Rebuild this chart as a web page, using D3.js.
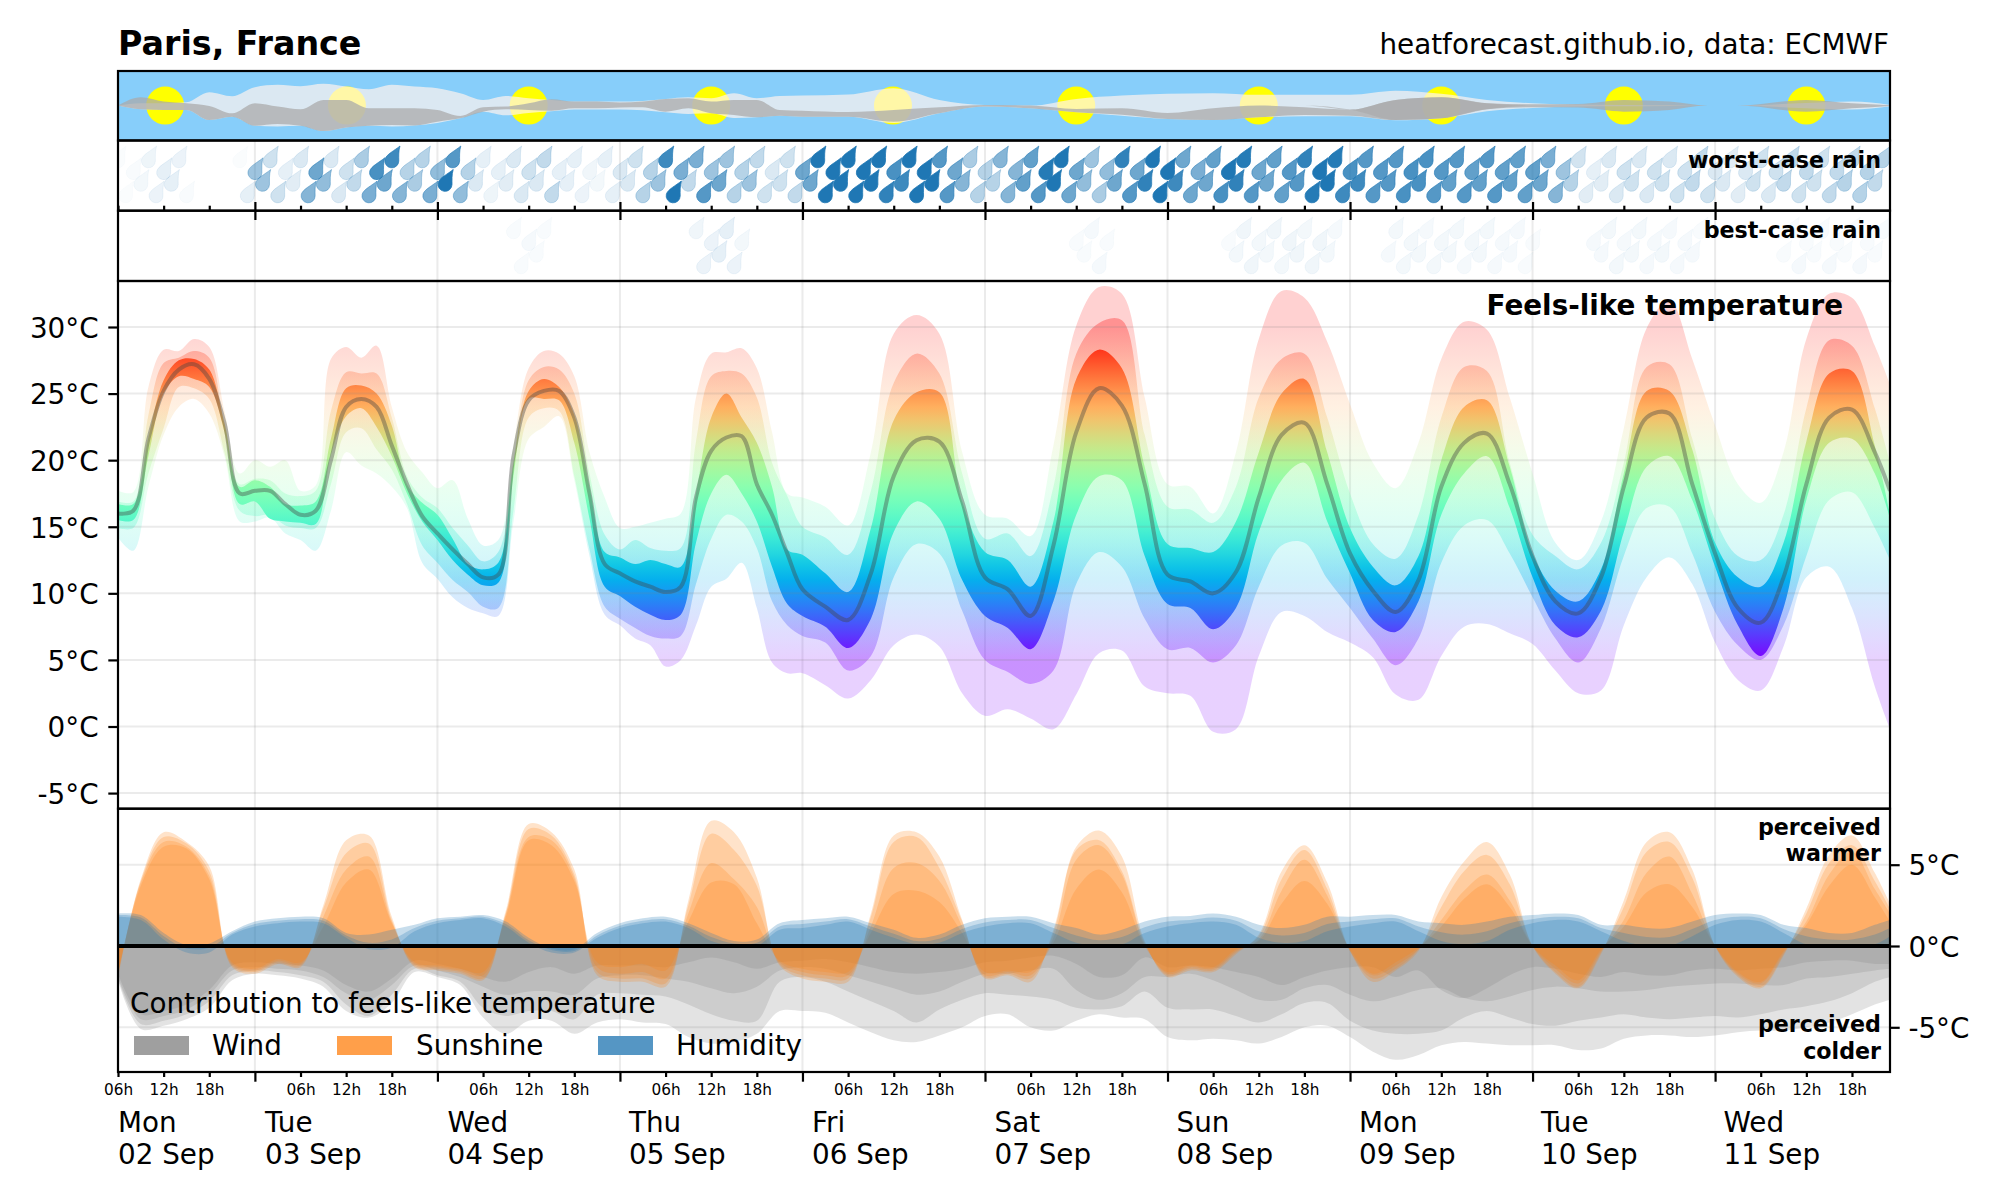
<!DOCTYPE html>
<html><head><meta charset="utf-8">
<script src="https://cdn.jsdelivr.net/npm/d3@7"></script>
<style>html,body{margin:0;background:#fff}svg{display:block}text{font-family:"DejaVu Sans",sans-serif;fill:#000}</style>
</head><body><svg id="c" width="2000" height="1200"></svg>
<script>
// ---------- data ----------
const titleText="Paris, France", sourceText="heatforecast.github.io, data: ECMWF";
const dayNames=["Mon","Tue","Wed","Thu","Fri","Sat","Sun","Mon","Tue","Wed"];
const dayDates=["02 Sep","03 Sep","04 Sep","05 Sep","06 Sep","07 Sep","08 Sep","09 Sep","10 Sep","11 Sep"];
const dayHours=[24,48,72,96,120,144,168,192,216];
const hourTicks=[6,12,18,30,36,42,54,60,66,78,84,90,102,108,114,126,132,138,150,156,162,174,180,186,198,204,210,222,228,234];
const tempTicks=[-5,0,5,10,15,20,25,30], contribTicks=[-5,0,5];
const sunHours=[12.2,36.1,60,84,107.9,132,156,180,204,228];

// temperature quantiles: 2-hourly h=6..94, then 3-hourly h=96..237, then h=239
const tempHours=[6,8,10,12,14,16,18,20,22,24,26,28,30,32,34,36,38,40,42,44,46,48,50,52,54,56,58,60,62,64,66,68,70,72,74,76,78,80,82,84,86,88,90,92,94,
 96,99,102,105,108,111,114,117,120,123,126,129,132,135,138,141,144,147,150,153,156,159,162,165,168,171,174,177,180,183,186,189,192,195,198,201,204,207,210,213,216,219,222,225,228,231,234,237,239];
const tMax=[17.7,17.6,25.5,28.3,28.2,29.1,28.5,23.7,19,20,19.5,20,17.7,18.1,27.6,28.5,27.7,28.6,24,20.6,19.1,17.9,18.5,15.6,13.6,14,21.1,26.9,28.2,28,26.3,20.6,17.2,14.9,15,15.3,15.6,16,24.7,28,28.1,28.4,26.9,22.1,17.5,
 17.2,16.5,15.1,20.6,29.5,30.9,29.5,20.6,15.9,15.6,14.3,21.1,30.1,33,32.5,24.7,18.2,18,16,20.6,29.1,32.7,32.2,
 28.9,24.2,19.8,17.9,21.3,27.6,30.4,29.8,24.7,19,13.8,12.5,15.4,22.4,29.9,32,27.6,22.6,18.2,16.8,20.6,29.1,32.5,32.2,28.6,25.7];
const tQ4=[16.9,16.9,23.4,27.3,27.7,28.2,27.7,22.6,18.2,18.6,18.5,17.5,17.3,17.7,23.7,26.6,26.5,26.5,23.2,18.8,17.2,16.4,14.9,13.6,12.4,13.1,20,26,27,26.8,25,19,14.4,13.3,14,13.4,13.2,13.4,21.4,26.3,26.7,26.5,24.7,19.8,17.3,
 15,14.2,12.9,17.7,25.8,28,26.5,19,14.1,14.5,12.8,18,28,30.3,30.5,21.9,16.5,16.3,15.3,18,24.7,27.6,28,
 23.2,17.5,13.7,12.6,15.9,23.2,27,26.7,19.8,14.4,12.8,11.8,13.8,19.8,27,27.2,21.6,15.6,12.8,12.5,15.9,23.9,29,28.6,23.9,19.8];
const tQ3=[16.7,16.7,21.7,26,27.5,27.6,26.8,22.8,18,18.5,18,16.7,16.6,16.9,21.6,25.4,25.6,25,22.6,18.2,16.8,15.9,14.1,12.2,11.8,12.3,19.8,25.2,26.1,25.5,23.4,18,13.1,12.7,12.2,12.5,12.2,12,17.5,23.2,25,23.2,21.3,18,13.3,
 12.9,11.5,10.1,14.9,23,25.1,25.1,16.9,13.1,12.5,10.5,15.4,26.1,28.3,26.9,19.5,13.7,13.4,13.1,15.4,20.6,25,26.1,
 20.6,14.9,12,10.6,12.8,20,24,24.5,19.5,13,10.2,9.4,11.8,19,25.2,25.2,20.8,13.8,11.2,10.5,13.8,21.4,26.5,26.7,21.1,15.9];
const tMed=[16,16.2,21.6,25.2,26.8,27.2,26.1,22.8,17.5,17.7,17.7,16.7,15.9,16.2,20,24,24.6,24,21.1,18.2,15.8,14.5,13.3,12.2,11.2,11.4,20.3,24.5,25.2,25.2,23.2,17.5,12.2,11.5,10.9,10.5,10.1,10.5,17.2,20.7,21.7,21.8,18.2,15.9,13,
 10.3,9,8,11.5,18.8,21.5,21.4,16.9,11.2,10.3,8.3,13.6,22.1,25.4,24.1,18.2,11.4,10.9,10,11.6,17.2,21.9,22.8,
 18.2,13,10.2,8.6,11,18,21.3,22,18.2,12.8,9.4,8.5,11.2,18,23.2,23.5,18.2,13,8.9,7.8,11.2,18.2,23.2,23.8,20.6,17.7];
const tQ2=[15.5,15.5,20.3,25,26.3,26.1,25.5,22.1,16.7,16.9,15.6,15.4,15.3,15.2,20.4,23.3,23.9,22.5,20.3,17.5,15.4,14,12.5,11.4,10.6,10.8,18.8,24.6,24.6,24.5,21.3,15.6,10.5,9.8,9,8.4,8,8.4,13.8,17.5,18.9,17.5,15.4,12,9.2,
 8.3,7.5,5.9,8.1,14.6,16.9,15.6,11,8.3,7.4,5.8,9.4,15.9,18.8,18.5,12.8,9.2,8.9,7.3,8.9,14.6,18.5,19.8,
 15.4,11.5,8,7.1,9.4,15.9,19,20.3,16.4,11.2,7.6,6.7,8.7,14.6,19.5,20.3,17,12,7.6,5.3,8.9,17,21.3,21.6,19,15.6];
const tQ1=[14.9,14.9,19,22.4,25.5,25.4,24.6,20.6,16.2,15.8,15.9,15.1,14.9,14.9,18.2,22.1,22.4,20.8,19.3,16.7,13.6,12.3,11,10.1,9,8.9,16.2,23.2,23.9,23.7,18.8,13.3,9,8.1,7.4,6.8,6.6,6.8,10.7,14.1,15.9,15.4,13.4,9.4,7.6,
 6.8,6.3,4.2,5.3,11.2,13.7,13,8.7,5,4.1,3.2,4.2,10.7,13.1,12,8.1,5.8,5.9,4.8,6.1,10.5,13.6,13.8,
 11.1,8.9,6.6,4.6,6.6,12.3,15.1,15.5,13,9.7,6.6,4.8,7.4,12.8,16.4,16.5,13,8.6,6.1,5,7.6,12.8,17,17.6,14.9,12.5];
const tMin=[14.2,13.2,18,21.9,24,24.6,23.5,20.3,15.4,15.4,15.7,14.5,14,13.2,16.2,20.6,19.6,19,18,16.4,12.3,11.1,9.7,8.9,8.5,8.3,15.4,21.6,22.5,23.3,18.5,12.8,8.4,7.6,6.6,6.1,4.5,5,7.6,10.5,11.1,12.3,8.9,4.8,4,
 4,3.1,2.1,3.5,6.1,6.9,6,2.5,.8,1.3,.6,-.2,2.4,5.5,5.7,3,2.5,2.3,-.4,-.2,5.3,8.6,8.3,
 7.1,6.3,5.2,2.4,2,5.3,7.5,7.7,7,6.2,4.2,2.5,2.7,7.6,11.2,12.7,10.7,6.3,3.5,2.7,6,11.2,12,8.9,3,-.2];

// contributions: 3-hourly h=6..237, then h=239 (rows are days)
const contribHours=[6,9,12,15,18,21,24,27,30,33,36,39,42,45,48,51,54,57,60,63,66,69,72,75,78,81,84,87,90,93,96,99,102,105,108,111,114,117,120,123,126,129,132,135,138,141,144,147,150,153,156,159,162,165,168,171,174,177,180,183,186,189,192,195,198,201,204,207,210,213,216,219,222,225,228,231,234,237,239];
const sun1=[-2,4.1,7,6.4,4.9,-1.3,
 -1.7,-1.1,-1.3,2.5,6.5,6.8,1.8,-1.3, -1.5,-1.7,-2.1,2.2,7.5,7,4.7,-1.8, -2.2,-2.2,-2.5,2.8,7.7,7,4.2,-1.2, -2,-2.2,-2.2,2,6.8,7,5.5,1.6,
 -2,-1.8,-2.2,1,6.1,7.1,5.5,.3, -1.9,-1.5,-1.6,-.5,.7,4.6,6.2,3.9, -.3,-2.2,-1.5,-.3,3,5.2,6.4,4.4, 0,-1.7,-2.6,-.5,2.8,6.4,7,4.7, 0,-1.9,-2.6,-.6,2.3,5.6,6.8,4.5, 2.6];
const sun2=[-1.9,4,6.7,6.3,4.6,-1.2,
 -1.6,-1,-1.2,2.3,5.7,6.3,1.6,-1.2, -1.4,-1.6,-2,2,7.2,6.8,4.4,-1.6, -2,-2,-2.3,2.5,6.9,5.9,3.7,-1.1, -1.8,-2,-2,1.8,6.4,6.7,4.8,1.5,
 -1.9,-1.7,-2,.8,5.9,6.5,4.6,.2, -1.8,-1.4,-1.5,-.4,.6,4.1,5.9,3.5, -.3,-2,-1.4,-.2,2.4,4.6,5.6,3.8, 0,-1.6,-2.5,-.4,2.4,5.8,6.4,4.2, 0,-1.8,-2.5,-.5,2,5.1,6.2,4, 2.3];
const sun3=[-1.8,3.9,6.4,6.1,4.3,-1.1,
 -1.5,-.9,-1.1,1.8,4.7,5.5,1.5,-1.1, -1.3,-1.5,-1.8,2,6.7,6.5,4.2,-1.3, -1.7,-1.6,-2,2,5.1,4.1,2.4,-1, -1.6,-1.8,-1.8,1.2,4.8,5.1,4,1.2,
 -1.8,-1.6,-1.8,.5,5.3,6.2,4.4,.1, -1.7,-1.3,-1.4,-.3,.4,3.4,5.3,3.1, -.3,-1.8,-1.2,-.2,1.6,3.4,4.4,2.8, 0,-1.4,-2.3,-.3,1.6,4.5,5.5,3.2, 0,-1.7,-2.3,-.4,1.5,4.4,5.8,3.5, 2];
const sun4=[-1.7,3.7,6.1,6,4.1,-1,
 -1.4,-.8,-1,1.2,3.9,4.7,1.4,-1, -1.2,-1.4,-1.6,1.8,6.5,6.2,4,-1, -1.3,-1.1,-1.5,1.5,3.9,3.8,1.4,-.9, -1.4,-1.6,-1.6,.8,3.2,3.4,2.7,.8,
 -1.6,-1.5,-1.6,.2,3.5,4.7,3.3,0, -1.6,-1.2,-1.3,-.2,.3,2.6,4,2.6, -.2,-1.7,-1,-.1,1.2,2.9,3.8,2.4, 0,-1.2,-2.1,-.2,1.2,3.3,3.8,2.4, 0,-1.6,-2.2,-.3,1.3,3.7,5,3, 1.5];
const hum1=[2,1.9,.8,.06,.15,.9,
 1.5,1.7,1.8,1.7,.8,.7,1,1.3, 1.7,1.8,1.9,1.5,.5,-.15,-.2,.8, 1.4,1.7,1.8,1.4,.8,.3,.4,1.4, 1.6,1.7,1.8,1.4,1,.5,.7,1.3,
 1.7,1.8,1.8,1.4,1.1,.7,1,1.5, 1.8,1.85,2,1.8,1.3,1.1,1.3,1.8, 1.8,1.9,1.9,1.5,1.4,1.3,1.5,1.8, 1.9,2,1.9,1.3,1.3,1.1,1.1,1.5, 1.9,2,1.9,1.3,1.1,.8,.8,1.3, 1.6];
const hum2=[1.9,1.75,.6,-.15,-.1,.8,
 1.35,1.55,1.65,1.55,.65,.2,.4,1.1, 1.55,1.7,1.8,1.35,.35,-.25,-.3,.65, 1.25,1.55,1.65,1.25,.55,.15,.2,1.2, 1.35,1.5,1.65,1.2,.75,.3,.45,1.05,
 1.45,1.6,1.6,1.1,.65,.35,.55,1.15, 1.5,1.6,1.75,1.55,.9,.65,.8,1.35, 1.5,1.65,1.7,1.2,.85,.7,.9,1.4, 1.65,1.8,1.7,1.1,.8,.55,.55,1.05, 1.6,1.8,1.7,1.05,.6,.4,.4,.7, 1.1];
const hum3=[1.8,1.6,.4,-.4,-.4,.7,
 1.2,1.4,1.5,1.4,.5,-.2,-.1,.9, 1.4,1.6,1.7,1.2,.2,-.4,-.4,.5, 1.1,1.4,1.5,1.1,.3,0,0,1, 1.1,1.3,1.5,1,.5,.1,.2,.8,
 1.2,1.4,1.4,.8,.2,0,.1,.8, 1.2,1.4,1.5,1.3,.5,.2,.3,.9, 1.2,1.4,1.5,.9,.3,.1,.3,1, 1.4,1.6,1.5,.9,.3,0,0,.6, 1.3,1.6,1.5,.8,.1,0,0,.1, .6];
const wind1=[-1.7,-4.2,-4,-3.6,-2.7,-1.2,
 -1,-1.1,-1.2,-1.5,-2.4,-2.8,-2,-.9, -1.1,-1.4,-1.9,-2.2,-1.6,-1.3,-1.7,-1.2, -1.2,-1.2,-1.3,-1,-.7,-1,-1.4,-1, -.9,-.8,-1,-1.3,-1.6,-1.7,-1.6,-1.4,
 -1,-.9,-.7,-.6,-1.1,-1.9,-1.8,-.7, -1.3,-1.2,-1.3,-1.6,-1.9,-2.4,-1.9,-1.5, -1.3,-1.3,-1.9,-1.5,-2.7,-3.2,-2.6,-1.8, -1.3,-1.4,-1.7,-1.9,-1.6,-1.8,-1.8,-1.5, -1.4,-1.5,-1.4,-1.3,-1,-.9,-.9,-1.1, -1.1];
const wind2=[-1.9,-4.5,-4.3,-3.9,-3,-1.5,
 -1.3,-1.4,-1.5,-1.9,-2.9,-3.3,-2.4,-1.2, -1.5,-1.9,-2.5,-3,-2.8,-2.8,-3,-2, -1.8,-1.8,-2,-2.2,-2.6,-2.9,-2.5,-1.5, -1.3,-1.4,-1.8,-2.2,-2.6,-3,-2.8,-2.2,
 -1.7,-1.7,-1.5,-1.4,-2.7,-3.3,-2.9,-1.9, -1.9,-1.7,-2.1,-2.7,-3.3,-3.3,-2.6,-2.4, -3,-3.4,-3.1,-2.7,-2.6,-3.2,-3.4,-3.1, -2.7,-2.5,-2.6,-2.8,-2.8,-2.7,-2.5,-2.4, -2.3,-2.3,-2.4,-2.4,-2,-1.9,-1.7,-1.5, -1.4];
const wind3=[-2,-4.8,-4.6,-4.2,-3.4,-1.8,
 -1.5,-1.6,-1.8,-2.2,-3.6,-4.3,-3,-1.4, -1.8,-2.2,-3.8,-4.3,-4,-4,-4.5,-3, -2.9,-3,-3.1,-3.6,-4.2,-4.6,-4.6,-2.2, -1.9,-2.2,-2.8,-3.4,-4,-4.7,-3.9,-3.3,
 -2.9,-3,-3.1,-3.3,-3.8,-3.9,-3.7,-2.8, -3.8,-3.9,-3.9,-4.3,-4.7,-4.2,-3.5,-3.5, -4.6,-5.2,-5.4,-5.4,-5.2,-4.4,-4,-4.4, -4.8,-4.9,-4.6,-4.4,-4.2,-4.4,-4.5,-4.4, -4.3,-4.4,-4.2,-3.9,-3.7,-3.4,-2.9,-2.2, -1.9];
const wind4=[-2.1,-5.1,-4.9,-4.5,-3.8,-2.1,
 -1.7,-1.8,-2,-2.5,-4,-4.4,-3.5,-1.6, -1.9,-2.4,-4.4,-5.4,-4.6,-4.6,-5.4,-4.7, -4.5,-4.7,-4.8,-5.6,-6,-5.9,-5.4,-4, -4,-4.1,-4.7,-5.3,-5.8,-5.9,-5.5,-5,
 -4.3,-4.2,-5,-5.2,-4.6,-4.2,-4.4,-4.5, -5.6,-5.8,-5.7,-5.8,-6,-5.6,-5,-4.9, -5.6,-6.5,-7,-6.7,-6.1,-5.9,-6,-6.1, -6.1,-6.1,-6.4,-6.3,-5.7,-5.5,-5.5,-5.6, -5.5,-5.3,-5.2,-5.2,-5,-4.7,-4.2,-3.6, -3.3];

// clouds
const cloudHours=[6,9,12,15,18,21,24,27,30,33,36,39,42,45,48,51,54,57,60,63,66,69,72,75,78,81,84,87,90,93,96,102,108,114,120,126,132,138,144,150,156,162,168,174,180,186,192,198,204,210,215,219,228,234,239];
const cloudHigh=[0,7,7,10,40,28,55,62,58,65,57,49,62,57,52,37,17,29,22,17,12,12,12,14,20,25,22,37,22,29,30,33,52,17,2,0,20,30,35,37,32,32,32,44,35,17,7,3,2,1,0,0,8,12,2];
const cloudHighBot=[0,-11,-13,-13,-43,-33,-60,-62,-60,-76,-65,-60,-62,-59,-52,-38,-18,-29,-22,-17,-12,-12,-12,-14,-20,-25,-23,-37,-35,-30,-33,-33,-52,-23,-3,-8,-20,-30,-40,-43,-35,-32,-32,-44,-38,-17,-7,-3,-2,-1,0,0,-8,-12,-2];
const cloudLowTop=[0,25,12,7,-1,-23,7,-3,-11,17,17,-8,-8,-8,-13,-31,-5,-3,7,19,12,12,9,12,20,22,12,17,17,-13,-15,-19,-13,-5,2,0,-10,-8,-22,-8,0,-5,-12,17,25,7,4,5,17,12,0,0,17,7,1];
const cloudLowBot=[0,-11,-13,-13,-43,-33,-60,-55,-60,-76,-65,-60,-58,-59,-48,-38,-18,-11,-13,-15,-8,-8,-6,-5,-18,-8,-23,-28,-35,-30,-33,-33,-48,-23,-3,-8,-20,-27,-40,-43,-35,-28,-30,-43,-38,-11,-5,-6,-18,-13,0,0,-18,-8,-1];
const cloudDarkTop=[0,0,0,0,0,0,0,0,0,0,0,0,0,0,0,0,0,0,0,0,0,0,0,0,0,0,0,0,0,0,0,0,0,0,0,0,0,0,0,0,0,0,-12,17,25,7,0,0,0,0,0,0,0,0,0];
const cloudDarkBot=[0,0,0,0,0,0,0,0,0,0,0,0,0,0,0,0,0,0,0,0,0,0,0,0,0,0,0,0,0,0,0,0,0,0,0,0,0,0,0,0,0,0,-12,-43,-38,-11,0,0,0,0,0,0,0,0,0];

// rain drop strength (percent), hourly from h=6 to h=238 (first row h=6..23, then days)
const rainWorst=[2,2,3,5,7,8,10,10,8,3,0,0,0,0,0,0,2,10,
 40,40,20,20,10,12,15,50,60,45,15,15,20,25,35,55,75,60,80,50,30,35,30,55,
 45,100,70,45,30,15,10,7,10,12,15,15,20,15,25,25,10,10,10,8,6,5,10,10,
 15,15,20,30,30,40,80,95,55,25,55,70,40,60,40,30,30,40,25,20,15,20,20,25,
 60,60,100,100,100,100,100,100,100,100,100,85,75,80,100,100,100,100,70,70,60,50,35,30,
 30,30,50,50,50,65,65,70,90,100,100,60,60,45,40,35,45,60,85,70,60,85,100,100,
 100,80,60,60,55,60,65,75,95,85,90,70,60,60,65,65,70,70,85,90,95,95,90,80,
 75,80,70,70,70,70,70,75,75,75,75,70,70,65,70,70,65,65,70,70,65,65,65,65,
 65,60,55,50,40,30,18,12,10,12,15,15,20,20,15,15,20,20,15,20,20,25,25,20,
 15,15,12,12,15,20,20,15,20,25,25,20,25,20,20,25,25,30,25,30,30,25,30];
const rainBest=[0,0,0,0,0,0,0,0,0,0,0,0,0,0,0,0,0,0,
 0,0,0,0,0,0,0,0,0,0,0,0,0,0,0,0,0,0,0,0,0,0,0,0,
 0,0,0,0,0,0,0,0,0,0,3,3,4,3,3,0,0,0,0,0,0,0,0,0,
 0,0,0,0,0,0,0,0,0,0,6,8,8,10,10,8,5,0,0,0,0,0,0,0,
 0,0,0,0,0,0,0,0,0,0,0,0,0,0,0,0,0,0,0,0,0,0,0,0,
 0,0,0,0,0,0,0,0,0,0,0,0,3,3,4,4,3,0,0,0,0,0,0,0,
 0,0,0,0,0,0,0,0,3,5,6,6,5,5,6,5,6,6,5,6,6,5,4,0,
 0,0,0,0,0,4,5,5,5,5,4,5,5,5,5,4,5,5,5,4,4,4,4,3,
 3,0,0,0,0,0,0,0,4,4,5,5,4,5,5,4,4,5,4,4,4,4,3,0,
 0,0,0,0,0,0,0,0,0,3,3,4,3,3,3,4,3,3,3,4,3,3,3];

const legendItems=["Wind","Sunshine","Humidity"];

// ---------- layout ----------
const L=118,R=1890;
const sky={t:71,b:140.5}, worst={t:140.5,b:210.7}, best={t:210.7,b:281}, main={t:281,b:808.7}, con={t:808.7,b:1072};
const svg=d3.select("#c"), defs=svg.append("defs");
const x=d3.scaleLinear().domain([6,239]).range([L,R]);
const yT=d3.scaleLinear().domain([0,30]).range([726.5,327]);
const yC=d3.scaleLinear().domain([0,5]).range([946,864.7]);
const yS=d3.scaleLinear().domain([-103.5,103.5]).range([140.3,70.9]);
const FS=27.8;
function clip(id,p){defs.append("clipPath").attr("id",id).append("rect").attr("x",L).attr("y",p.t).attr("width",R-L).attr("height",p.b-p.t);}
[["cSky",sky],["cWorst",worst],["cBest",best],["cMain",main],["cCon",con]].forEach(a=>clip(a[0],a[1]));

// rainbow gradient by temperature
const rainbow=t=>{const r=Math.abs(2*t-.5),g=Math.sin(Math.PI*t),b=Math.cos(Math.PI*t/2);
 return d3.rgb(Math.min(1,r)*255,g*255,b*255).formatHex();};
const grad=defs.append("linearGradient").attr("id","temp").attr("gradientUnits","userSpaceOnUse")
 .attr("x1",0).attr("x2",0).attr("y1",yT(5)).attr("y2",yT(30));
d3.range(0,1.0001,.04).forEach(t=>grad.append("stop").attr("offset",t).attr("stop-color",rainbow(t)));

const gridCol="rgba(128,128,128,0.16)";
const smooth=d3.curveCatmullRom;

// sky panel
const gs=svg.append("g").attr("clip-path","url(#cSky)");
gs.append("rect").attr("x",L).attr("y",sky.t).attr("width",R-L).attr("height",sky.b-sky.t).attr("fill","#87cefa");
gs.selectAll("circle").data(sunHours).join("circle").attr("cx",d=>x(d)).attr("cy",105.6).attr("r",19).attr("fill","#ffff00");
const cloudIdx=d3.range(cloudHours.length);
const cloudArea=(lo,hi)=>d3.area().x(i=>x(cloudHours[i])).y0(i=>yS(lo[i])).y1(i=>yS(hi[i])).curve(d3.curveMonotoneX)(cloudIdx);
gs.append("path").attr("d",cloudArea(cloudHighBot,cloudHigh)).attr("fill","#fff4ee").attr("fill-opacity",.7);
gs.append("path").attr("d",cloudArea(cloudLowBot,cloudLowTop)).attr("fill","#aaaaaa").attr("fill-opacity",.74);
gs.append("path").attr("d",cloudArea(cloudDarkBot,cloudDarkTop)).attr("fill","#a8a8a8").attr("fill-opacity",.6);

// vertical grid behind rain panels
svg.append("g").selectAll("line").data(dayHours).join("line").attr("x1",d=>x(d)).attr("x2",d=>x(d)).attr("y1",worst.t).attr("y2",con.b)
 .attr("stroke",gridCol).attr("stroke-width",2);

// rain
const dropPath="M8.2,-15C6.6,-10 7,-4 7,0A7,7 0 1 1 -6.8,-1.8C-5.5,-6.6 2.8,-10.5 8.2,-15Z";
const rowBody={2:161,0:172.8,1:184.5,3:196};
function rain(id,arr,dy){
 svg.append("g").attr("clip-path",`url(#${id})`).selectAll("path").data(arr.map((v,i)=>({h:6+i,v})).filter(d=>d.v>0)).join("path")
  .attr("transform",d=>`translate(${x(d.h)},${rowBody[d.h%4]+dy})`).attr("d",dropPath)
  .attr("fill","#1f77b4").attr("fill-opacity",d=>Math.min(1,d.v*1.08/100)).attr("stroke","#1f77b4").attr("stroke-opacity",d=>Math.min(1,d.v*1.08/100)).attr("stroke-width",.8);
}
rain("cWorst",rainWorst,0); rain("cBest",rainBest,71);

// main temperature bands
const gm=svg.append("g").attr("clip-path","url(#cMain)");
const tIdx=d3.range(tempHours.length);
const band=(lo,hi)=>d3.area().x(i=>x(tempHours[i])).y0(i=>yT(lo[i])).y1(i=>yT(hi[i])).curve(smooth)(tIdx);
[[tMin,tMax,.18],[tQ1,tQ4,.3],[tQ2,tQ3,1]].forEach(b=>gm.append("path").attr("d",band(b[0],b[1])).attr("fill","url(#temp)").attr("fill-opacity",b[2]));
gm.append("path").attr("d",d3.line().x(i=>x(tempHours[i])).y(i=>yT(tMed[i])).curve(smooth)(tIdx)).attr("fill","none").attr("stroke","#444").attr("stroke-opacity",.4).attr("stroke-width",4);
svg.append("g").selectAll("line").data(tempTicks).join("line").attr("x1",L).attr("x2",R).attr("y1",d=>yT(d)).attr("y2",d=>yT(d)).attr("stroke",gridCol).attr("stroke-width",2);

// contributions
const gc=svg.append("g").attr("clip-path","url(#cCon)");
gc.selectAll("line").data([-5,5]).join("line").attr("x1",L).attr("x2",R).attr("y1",d=>yC(d)).attr("y2",d=>yC(d)).attr("stroke",gridCol).attr("stroke-width",2);
const cIdx=d3.range(contribHours.length);
const toZero=v=>d3.area().x(i=>x(contribHours[i])).y0(yC(0)).y1(i=>yC(v[i])).curve(smooth)(cIdx);
[wind4,wind3,wind2,wind1].forEach(v=>gc.append("path").attr("d",toZero(v)).attr("fill","#808080").attr("fill-opacity",.22));
[sun1,sun2,sun3,sun4].forEach(v=>gc.append("path").attr("d",toZero(v)).attr("fill","#ff7f0e").attr("fill-opacity",.22));
[hum1,hum2,hum3].forEach(v=>gc.append("path").attr("d",toZero(v)).attr("fill","#1f77b4").attr("fill-opacity",.25));
gc.append("line").attr("x1",L).attr("x2",R).attr("y1",yC(0)).attr("y2",yC(0)).attr("stroke","#000").attr("stroke-width",4);

// frames
[sky,worst,best,main,con].forEach(p=>svg.append("rect").attr("x",L).attr("y",p.t).attr("width",R-L).attr("height",p.b-p.t).attr("fill","none").attr("stroke","#000").attr("stroke-width",2.2));

// axes
function styleAxis(g,fs,dy){g.select(".domain").remove();g.selectAll("line").attr("stroke","#000").attr("stroke-width",2.2);
 g.attr("font-family",null).attr("font-size",null);g.selectAll("text").attr("font-size",fs);if(dy)g.selectAll("text").attr("dy",dy);}
styleAxis(svg.append("g").attr("transform",`translate(${L},0)`).call(d3.axisLeft(yT).tickValues(tempTicks).tickFormat(d=>d+"°C").tickSize(9.7).tickPadding(9.7)),FS,"0.37em");
styleAxis(svg.append("g").attr("transform",`translate(${R},0)`).call(d3.axisRight(yC).tickValues(contribTicks).tickFormat(d=>d+"°C").tickSize(9.7).tickPadding(8.7)),FS,"0.37em");
styleAxis(svg.append("g").attr("transform",`translate(0,${con.b})`).call(d3.axisBottom(x).tickValues(hourTicks).tickFormat(d=>String(d%24).padStart(2,"0")+"h").tickSize(5).tickPadding(7)),15.3);
styleAxis(svg.append("g").attr("transform",`translate(0,${con.b})`).call(d3.axisBottom(x).tickValues(dayHours).tickFormat("").tickSize(9.7)),15);
styleAxis(svg.append("g").attr("transform",`translate(0,${worst.b})`).call(d3.axisTop(x).tickValues(hourTicks).tickFormat("").tickSize(5)),15);
styleAxis(svg.append("g").attr("transform","translate(0,202)").call(d3.axisBottom(x).tickValues(dayHours).tickFormat("").tickSize(18)),15);

// texts
function T(tx,xx,yy,o={}){return svg.append("text").text(tx).attr("x",xx).attr("y",yy).attr("font-size",o.fs||FS).attr("font-weight",o.b?"bold":"normal").attr("text-anchor",o.a||"start");}
T(titleText,118,54.5,{fs:33.3,b:1});
T(sourceText,1889,54,{a:"end"});
T("worst-case rain",1881,168,{fs:22.2,b:1,a:"end"});
T("best-case rain",1881,238,{fs:22.2,b:1,a:"end"});
T("Feels-like temperature",1843,314.5,{fs:27.8,b:1,a:"end"});
T("perceived",1881,835,{fs:22.2,b:1,a:"end"});
T("warmer",1881,861,{fs:22.2,b:1,a:"end"});
T("perceived",1881,1032,{fs:22.2,b:1,a:"end"});
T("colder",1881,1059,{fs:22.2,b:1,a:"end"});
T("Contribution to feels-like temperature",130,1013);
const legendX=[134,337,598], legendTextX=[212,416,676], legendCol=["#9f9f9f","#ff9f4a","#5596c4"];
legendItems.forEach((n,i)=>{svg.append("rect").attr("x",legendX[i]).attr("y",1036).attr("width",55).attr("height",19).attr("fill",legendCol[i]);T(n,legendTextX[i],1055);});
const dayLabelX=[118,265,447.5,629,812,994.5,1176.5,1359,1541,1723.5];
dayNames.forEach((n,i)=>{const d=i==0?0.5:1;T(n,dayLabelX[i],1131+d);T(dayDates[i],dayLabelX[i],1163+d);});
</script></body></html>
